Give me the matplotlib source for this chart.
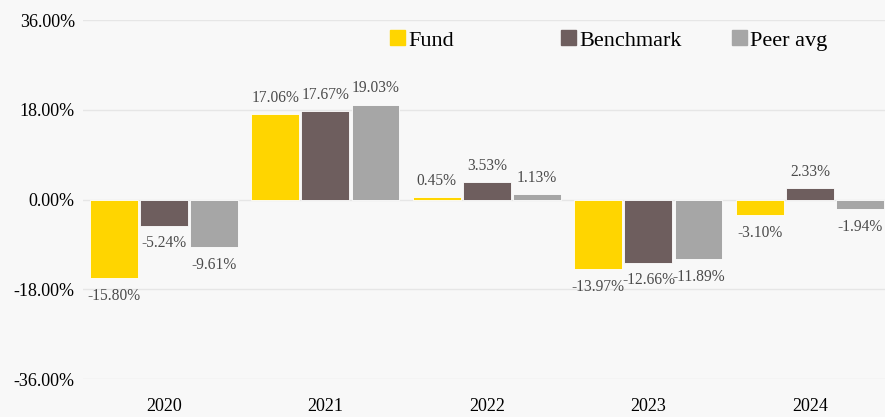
import numpy as np
import matplotlib.pyplot as plt
from matplotlib.patches import Rectangle
from matplotlib.ticker import FuncFormatter

years = ['2020', '2021', '2022', '2023', '2024']
fund = [-15.80, 17.06, 0.45, -13.97, -3.10]
benchmark = [-5.24, 17.67, 3.53, -12.66, 2.33]
peer_avg = [-9.61, 19.03, 1.13, -11.89, -1.94]

series_names = ['Fund', 'Benchmark', 'Peer avg']
series_colors = ['#FFD500', '#6E5E5E', '#A6A6A6']
y_ticks = [-36, -18, 0, 18, 36]

plt.rcParams['font.family'] = ['Liberation Serif', 'DejaVu Serif']
bg = '#F8F8F8'

fig = plt.figure(figsize=(8.85, 4.17), dpi=100, facecolor=bg)
# plot area runs a little past the right edge of the canvas
ax = fig.add_axes([0.094, 0.091, 0.9124, 0.861], facecolor=bg)

x = np.arange(len(years))
width = 0.297
step = 0.31
for i, (vals, color) in enumerate(zip([fund, benchmark, peer_avg], series_colors)):
    pos = x + (i - 1) * step
    bars = ax.bar(pos, vals, width, color=color, edgecolor='white',
                  linewidth=0.6, zorder=3)
    for b, v in zip(bars, vals):
        cx = b.get_x() + b.get_width() / 2
        if v >= 0:
            ax.annotate(f'{v:.2f}%', (cx, v), xytext=(0, 6),
                        textcoords='offset points', ha='center', va='bottom',
                        fontsize=11.2, color='#4a4a4a', zorder=4)
        else:
            ax.annotate(f'{v:.2f}%', (cx, v), xytext=(0, -7),
                        textcoords='offset points', ha='center', va='top',
                        fontsize=11.2, color='#4a4a4a', zorder=4)

ax.set_xlim(-0.5, len(years) - 0.5)
ax.set_ylim(-36, 36)
ax.set_yticks(y_ticks)
ax.yaxis.set_major_formatter(FuncFormatter(lambda v, _: f'{v:.2f}%'))
ax.set_xticks(x)
ax.set_xticklabels(years)
ax.tick_params(axis='y', length=0, pad=6, labelsize=13)
ax.tick_params(axis='x', length=0, pad=14, labelsize=13)
ax.grid(axis='y', color='#E6E6E6', linewidth=1, zorder=0)
for s in ax.spines.values():
    s.set_visible(False)

# legend: equally spaced entries along the top
for i, (name, color) in enumerate(zip(series_names, series_colors)):
    lx = (390 + i * 171) / 885
    fig.add_artist(Rectangle((lx, 1 - 45 / 417), 15 / 885, 15 / 417,
                             transform=fig.transFigure, color=color))
    fig.text(lx + 18 / 885, 1 - 46 / 417, name, fontsize=16,
             va='baseline', ha='left', color='black')

fig.savefig('out.png', dpi=100, facecolor=bg)
